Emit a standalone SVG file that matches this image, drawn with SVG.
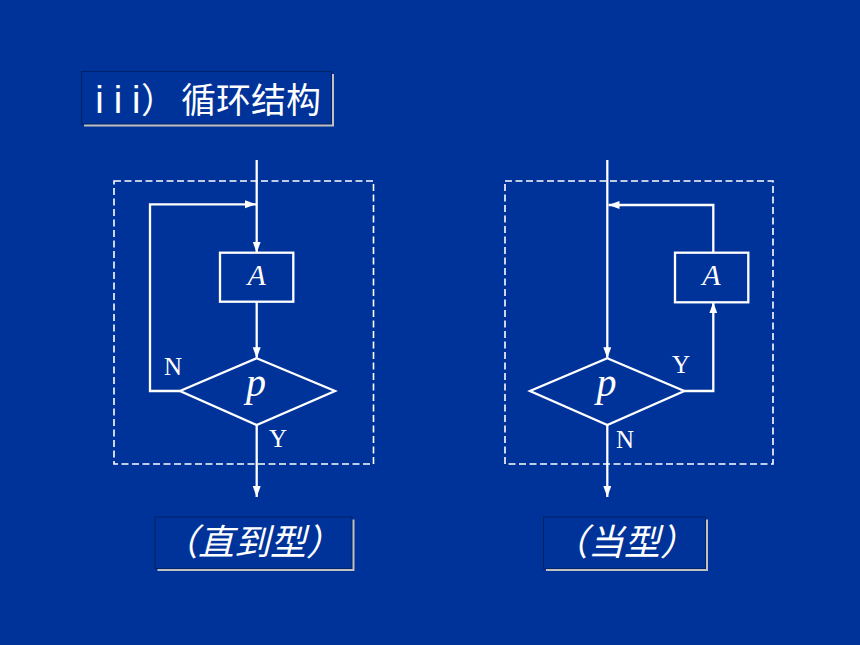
<svg xmlns="http://www.w3.org/2000/svg" width="860" height="645" viewBox="0 0 860 645">
<style>
.ln{fill:none;stroke:#fff;stroke-width:2.3}
.shape{fill:none;stroke:#fff;stroke-width:2.3}
.dash{fill:none;stroke:#fff;stroke-width:1.6;stroke-dasharray:7 3.5}
.lbl{font-family:"Liberation Serif","Times New Roman",serif;fill:#fff;font-size:25px}
.var{font-family:"Liberation Serif","Times New Roman",serif;fill:#fff;font-style:italic;text-anchor:middle}
.cn{font-family:"Liberation Sans","Noto Sans CJK SC",sans-serif;fill:#fff}
.box{fill:#003399;stroke:#002266;stroke-width:1}
.shadow{fill:#c0c0c0}
</style>
<defs>
<marker id="arr" markerUnits="userSpaceOnUse" markerWidth="12" markerHeight="10" refX="11" refY="4" orient="auto">
<path d="M0,0 L11,4 L0,8 Z" fill="#fff"/>
</marker>
</defs>
<rect width="860" height="645" fill="#003399"/>

<g id="title">
<rect class="shadow" x="84" y="74" width="250" height="52.5"/>
<rect class="box" x="81.5" y="71.5" width="250" height="52.5"/>
<text class="cn" font-size="38" y="113"><tspan x="99.5" text-anchor="middle">i</tspan><tspan x="118" text-anchor="middle">i</tspan><tspan x="136.3" text-anchor="middle">i</tspan><tspan x="141" font-family="Noto Sans CJK SC,sans-serif" font-size="35">）</tspan><tspan x="181" font-family="Noto Sans CJK SC,sans-serif" font-size="35">循环结构</tspan></text>
</g>

<g id="left-frame"><rect class="dash" x="114" y="181" width="259.5" height="283"/></g>
<g id="left-A">
<rect class="shape" x="220" y="252.7" width="73.3" height="49"/>
<text class="var" x="256.7" y="285" font-size="30">A</text>
</g>
<g id="left-p">
<polygon class="shape" points="256.7,358.3 335,391 256.7,425 180,391"/>
<text class="var" x="256" y="396" font-size="40">p</text>
</g>
<g id="left-labels">
<text class="lbl" x="164" y="375">N</text>
<text class="lbl" x="269" y="447">Y</text>
</g>

<g id="right-frame"><rect class="dash" x="505" y="181" width="268" height="283"/></g>
<g id="right-A">
<rect class="shape" x="675" y="252.7" width="73.3" height="49.6"/>
<text class="var" x="711.5" y="285" font-size="30">A</text>
</g>
<g id="right-p">
<polygon class="shape" points="607.3,358.3 684.3,391 607.3,425 530,391"/>
<text class="var" x="606.5" y="396" font-size="40">p</text>
</g>
<g id="right-labels">
<text class="lbl" x="672" y="373">Y</text>
<text class="lbl" x="616" y="448">N</text>
</g>

<g id="connectors">
<path class="ln" d="M256.7,160 V252.7" marker-end="url(#arr)"/>
<path class="ln" d="M256.7,301.7 V358.3" marker-end="url(#arr)"/>
<path class="ln" d="M180,391 H150 V204.3 H256" marker-end="url(#arr)"/>
<path class="ln" d="M256.7,425 V497" marker-end="url(#arr)"/>
<path class="ln" d="M607.3,160 V358.3" marker-end="url(#arr)"/>
<path class="ln" d="M684.3,391 H713.3 V302.3" marker-end="url(#arr)"/>
<path class="ln" d="M713.3,252.7 V205 H608.5" marker-end="url(#arr)"/>
<path class="ln" d="M607.3,425 V497" marker-end="url(#arr)"/>
</g>

<g id="label-until">
<rect class="shadow" x="157.5" y="519.5" width="197" height="51.5"/>
<rect class="box" x="155" y="517" width="197" height="51.5"/>
<text class="cn" font-family="Noto Sans CJK SC,sans-serif" font-size="36" font-style="italic" x="162" y="555">（直到型）</text>
</g>
<g id="label-while">
<rect class="shadow" x="546" y="519.5" width="162" height="51.5"/>
<rect class="box" x="543.5" y="517" width="162" height="51.5"/>
<text class="cn" font-family="Noto Sans CJK SC,sans-serif" font-size="36" font-style="italic" x="552" y="555">（当型）</text>
</g>
</svg>
